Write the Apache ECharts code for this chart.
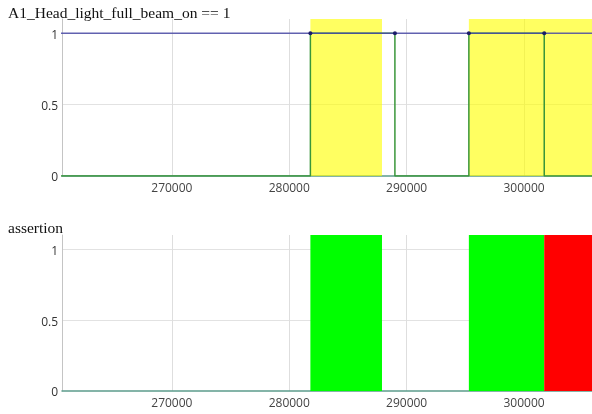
<!DOCTYPE html>
<html>
<head>
<meta charset="utf-8">
<script src="https://cdn.jsdelivr.net/npm/echarts@6/dist/echarts.min.js"></script>
<style>
  html, body { margin: 0; padding: 0; background: #fff; }
  #chart { width: 592px; height: 414px; }
</style>
</head>
<body>
<div id="chart"></div>
<script>
// visible time window
const xRange = [260640, 305790];

// signal A1_Head_light_full_beam_on: times where it changes, and its value after each change
const changeTimes = [255000, 281800, 289000, 295300, 301720, 312000];
const signalValues = [0, 1, 0, 1, 0, 0];

// the "== 1" reference line, sampled at the change times
const refTimes = [255000, 281800, 289000, 295300, 301720, 312000];
const refValues = [1, 1, 1, 1, 1, 1];

// windows where the condition is checked (yellow)
const checkWindows = [[281800, 287900], [295300, 312000]];
// assertion result windows
const passWindows = [[281800, 287900], [295300, 301720]];
const failWindows = [[301720, 312000]];

const titles = ["A1_Head_light_full_beam_on == 1", "assertion"];

const chart = echarts.init(document.getElementById("chart"), null, { renderer: "canvas" });

function toArea(windows, color) {
  return windows.map((w) => [
    { xAxis: w[0], itemStyle: { color: color } },
    { xAxis: w[1] },
  ]);
}

const xAxisBase = {
  type: "value",
  min: xRange[0],
  max: xRange[1],
  axisLine: { show: true, lineStyle: { color: "#5c9c8c", width: 1.5 } },
  axisTick: { show: false },
  axisLabel: {
    showMinLabel: false,
    showMaxLabel: false,
    formatter: (v) => String(v),
    color: "#444",
    fontFamily: "Open Sans",
    fontSize: 12,
    margin: 7,
  },
  splitLine: { show: true, showMinLine: false, showMaxLine: false, lineStyle: { color: "#dedede" } },
};

const yAxisBase = {
  type: "value",
  min: 0,
  max: 1.1,
  interval: 0.5,
  axisLine: { show: true, lineStyle: { color: "#c4c4c4" } },
  axisTick: { show: false },
  axisLabel: {
    showMaxLabel: false,
    color: "#333",
    fontFamily: "Open Sans",
    fontSize: 12,
    margin: 4,
    verticalAlign: "top",
    padding: [-4, 0, 0, 0],
  },
  splitLine: { show: true, showMinLine: false, showMaxLine: false, lineStyle: { color: "#e2e2e2" } },
};

const titleStyle = { fontFamily: "Liberation Serif", fontWeight: "normal", fontSize: 15.5, color: "#111" };

const option = {
  animation: false,
  title: [
    { text: titles[0], left: 8, top: 6, padding: 0, textStyle: titleStyle },
    { text: titles[1], left: 8, top: 221, padding: 0, textStyle: titleStyle },
  ],
  grid: [
    { left: 62, top: 19, width: 530, height: 157 },
    { left: 62, top: 235, width: 530, height: 156 },
  ],
  xAxis: [
    { ...xAxisBase, gridIndex: 0 },
    { ...xAxisBase, gridIndex: 1 },
  ],
  yAxis: [
    { ...yAxisBase, gridIndex: 0 },
    { ...yAxisBase, gridIndex: 1 },
  ],
  series: [
    {
      name: "window",
      type: "line",
      xAxisIndex: 0,
      yAxisIndex: 0,
      data: [],
      z: 1,
      silent: true,
      markArea: { silent: true, data: toArea(checkWindows, "rgba(255,255,0,0.62)") },
    },
    {
      name: "signal",
      type: "line",
      xAxisIndex: 0,
      yAxisIndex: 0,
      step: "end",
      data: changeTimes.map((t, i) => [t, signalValues[i]]),
      showSymbol: false,
      lineStyle: { color: "#3a963a", width: 1.5 },
      itemStyle: { color: "#3a963a" },
      clip: true,
      z: 3,
    },
    {
      name: "reference",
      type: "line",
      xAxisIndex: 0,
      yAxisIndex: 0,
      data: refTimes.map((t, i) => [t, refValues[i]]),
      symbol: "circle",
      symbolSize: 4,
      showAllSymbol: true,
      lineStyle: { color: "#4a4aa6", width: 1.5, opacity: 0.85 },
      itemStyle: { color: "#1c1c6a" },
      clip: true,
      z: 4,
    },
    {
      name: "assertion",
      type: "line",
      xAxisIndex: 1,
      yAxisIndex: 1,
      data: [],
      silent: true,
      markArea: {
        silent: true,
        data: toArea(passWindows, "#00ff00").concat(toArea(failWindows, "#ff0000")),
      },
    },
  ],
};

chart.setOption(option);
</script>
</body>
</html>
